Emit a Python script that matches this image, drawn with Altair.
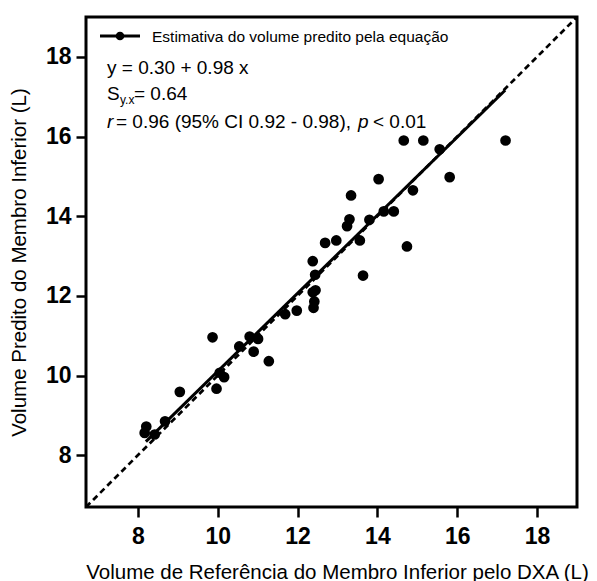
import altair as alt
import pandas as pd

FONT = "Liberation Sans"

# Reference volume by DXA (L) and predicted volume (L)
ref_volume = [8.21, 8.17, 8.42, 8.68, 9.05, 9.87, 9.97, 10.05, 10.16, 10.54,
              10.8, 10.9, 11.01, 11.28, 11.69, 11.98, 12.4, 12.42, 12.38, 12.45,
              12.44, 12.38, 12.69, 12.97, 13.24, 13.3, 13.34, 13.56, 13.64, 13.8,
              14.03, 14.16, 14.41, 14.74, 14.89, 14.66, 15.15, 15.56, 15.81, 17.21]
pred_volume = [8.72, 8.56, 8.52, 8.85, 9.59, 10.96, 9.67, 10.07, 9.96, 10.73,
               10.98, 10.6, 10.92, 10.36, 11.54, 11.63, 11.7, 11.86, 12.09, 12.14,
               12.53, 12.87, 13.33, 13.39, 13.75, 13.92, 14.52, 13.39, 12.51, 13.91,
               14.93, 14.12, 14.12, 13.24, 14.65, 15.9, 15.9, 15.68, 14.98, 15.9]

# Regression line ends (y = 0.30 + 0.98 x)
fit_x = [8.2, 17.2]
fit_y = [8.34, 17.16]

# Identity line ends
identity_x = [6.7, 19.0]
identity_y = [6.7, 19.0]

axis_domain = [6.7, 19.0]
tick_values = [8, 10, 12, 14, 16, 18]

x_title = "Volume de Referência do Membro Inferior pelo DXA (L)"
y_title = "Volume Predito do Membro Inferior (L)"
legend_label = "Estimativa do volume predito pela equação"
eq_text = "y = 0.30 + 0.98 x"
sd_S = "S"
sd_sub = "y.x"
sd_rest = "= 0.64"
r_italic = "r"
r_text = "= 0.96 (95% CI 0.92 - 0.98),"
p_italic = "p"
p_text = "< 0.01"

xs = alt.Scale(domain=axis_domain, nice=False, zero=False)
ys = alt.Scale(domain=axis_domain, nice=False, zero=False)
x_axis = alt.Axis(values=tick_values, title=x_title)
y_axis = alt.Axis(values=tick_values, title=y_title)

pts = pd.DataFrame({"x": ref_volume, "y": pred_volume})
fit = pd.DataFrame({"x": fit_x, "y": fit_y})
ident = pd.DataFrame({"x": identity_x, "y": identity_y})

enc = dict(
    x=alt.X("x:Q", scale=xs, axis=x_axis),
    y=alt.Y("y:Q", scale=ys, axis=y_axis),
)

identity_layer = alt.Chart(ident).mark_line(
    color="black", strokeWidth=2.7, strokeDash=[6, 4], clip=True
).encode(**enc)

fit_layer = alt.Chart(fit).mark_line(color="black", strokeWidth=3).encode(**enc)

points_layer = alt.Chart(pts).mark_circle(color="black", opacity=1, size=115).encode(**enc)


def txt(s, x, y, size=19, style="normal"):
    return alt.Chart(pd.DataFrame({"t": [s]})).mark_text(
        align="left", baseline="alphabetic", font=FONT, fontSize=size,
        fontStyle=style, color="black"
    ).encode(x=alt.value(x), y=alt.value(y), text="t:N")


one = pd.DataFrame({"k": [0]})
legend_line = alt.Chart(one).mark_rule(color="black", strokeWidth=3).encode(
    x=alt.value(14), x2=alt.value(54), y=alt.value(19)
)
legend_dot = alt.Chart(one).mark_circle(color="black", opacity=1, size=75).encode(
    x=alt.value(34), y=alt.value(19)
)

chart = alt.layer(
    points_layer,
    identity_layer,
    fit_layer,
    legend_line,
    legend_dot,
    txt(legend_label, 66, 25, size=15.5),
    txt(eq_text, 21, 57),
    txt(sd_S, 21, 83),
    txt(sd_sub, 34, 87, size=12),
    txt(sd_rest, 48, 83),
    txt(r_italic, 21, 111, style="italic"),
    txt(r_text, 30, 111),
    txt(p_italic, 272, 111, style="italic"),
    txt(p_text, 287, 111),
).properties(
    width=491,
    height=490,
    padding={"left": 78, "top": 9, "right": 12, "bottom": 74},
    autosize=alt.AutoSizeParams(type="none"),
    background="white",
).configure_view(
    stroke="black", strokeWidth=3
).configure_axis(
    domain=False, grid=False, ticks=True, tickColor="black", tickWidth=2.5,
    tickSize=10, labelFont=FONT, labelFontSize=23, labelFontWeight="bold",
    labelColor="black", titleFont=FONT, titleFontSize=20.5,
    titleFontWeight="normal", titleColor="black",
).configure_axisX(
    labelBaseline="alphabetic", labelPadding=26, titleX=251, titleY=71,
    titleBaseline="alphabetic", titleAlign="center",
).configure_axisY(
    labelPadding=5, titleX=-61, titleY=245, titleAngle=270,
    titleBaseline="alphabetic", titleAlign="center",
)

chart.save("out.html", embed_options={"renderer": "svg", "actions": False})
